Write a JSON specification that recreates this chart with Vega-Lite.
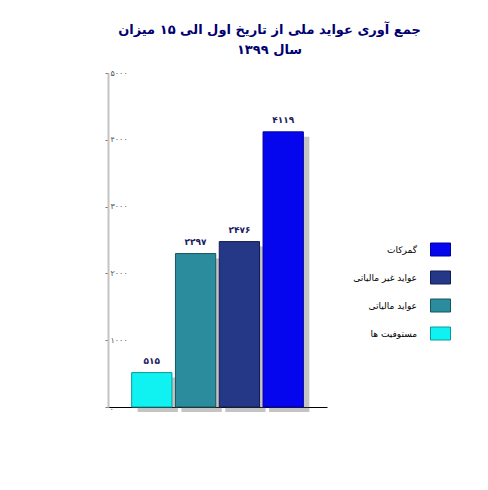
{
  "$schema": "https://vega.github.io/schema/vega-lite/v6.json",
  "autosize": "none",
  "padding": {"left": 108, "top": 73, "right": 161, "bottom": 83},
  "width": 219,
  "height": 334,
  "background": "white",
  "view": {"stroke": null},
  "title": {
    "text": ["جمع آوری عواید ملی از تاریخ اول الی ۱۵ میزان", "سال ۱۳۹۹"],
    "font": "DejaVu Sans",
    "fontSize": 13,
    "fontWeight": "bold",
    "color": "#000070",
    "lineHeight": 20,
    "anchor": "middle",
    "dx": 52,
    "offset": 12
  },
  "data": {
    "values": [
      {"item": "مستوفیت ها", "value": 515, "label": "۵۱۵"},
      {"item": "عواید مالیاتی", "value": 2297, "label": "۲۲۹۷"},
      {"item": "عواید غیر مالیاتی", "value": 2476, "label": "۲۴۷۶"},
      {"item": "گمرکات", "value": 4119, "label": "۴۱۱۹"}
    ]
  },
  "encoding": {
    "x": {
      "field": "item",
      "type": "nominal",
      "sort": null,
      "scale": {"paddingInner": 0.08, "paddingOuter": 0.54},
      "axis": {"labels": false, "ticks": false, "title": null, "domainColor": "black", "domainWidth": 1}
    },
    "y": {
      "field": "value",
      "type": "quantitative",
      "scale": {"domain": [0, 5000]},
      "axis": {
        "title": null,
        "grid": false,
        "values": [0, 1000, 2000, 3000, 4000, 5000],
        "domainColor": "#c4c4c4",
        "domainWidth": 2,
        "tickColor": "#777",
        "tickSize": 3,
        "labelFont": "DejaVu Sans",
        "labelFontSize": 8,
        "labelColor": "#555",
        "labelAlign": "left",
        "labelPadding": -5,
        "labelExpr": "datum.value == 0 ? '.' : datum.value == 1000 ? '۱۰۰۰' : datum.value == 2000 ? '۲۰۰۰' : datum.value == 3000 ? '۳۰۰۰' : datum.value == 4000 ? '۴۰۰۰' : '۵۰۰۰'"
      }
    }
  },
  "layer": [
    {
      "mark": {"type": "bar", "color": "#555555", "opacity": 0.35, "xOffset": 6, "yOffset": 5, "y2Offset": 5}
    },
    {
      "mark": {"type": "bar", "strokeWidth": 1},
      "encoding": {
        "color": {
          "field": "item",
          "type": "nominal",
          "scale": {
            "domain": ["گمرکات", "عواید غیر مالیاتی", "عواید مالیاتی", "مستوفیت ها"],
            "range": ["#0505EE", "#253888", "#2A8C9C", "#10F2F2"]
          },
          "legend": {
            "orient": "none",
            "legendX": 322,
            "legendY": 166,
            "title": null,
            "symbolType": "M-1,-0.65L1,-0.65L1,0.65L-1,0.65Z",
            "symbolSize": 400,
            "symbolStrokeColor": "#222244",
            "symbolStrokeWidth": 1,
            "symbolOpacity": 1,
            "labelAlign": "right",
            "labelOffset": -34,
            "labelFont": "DejaVu Sans",
            "labelFontSize": 9,
            "labelColor": "black",
            "rowPadding": 9
          }
        },
        "stroke": {
          "field": "item",
          "type": "nominal",
          "scale": {
            "domain": ["گمرکات", "عواید غیر مالیاتی", "عواید مالیاتی", "مستوفیت ها"],
            "range": ["#0000A0", "#101C50", "#175560", "#0A9A9A"]
          },
          "legend": null
        }
      }
    },
    {
      "mark": {"type": "text", "baseline": "bottom", "dy": -7, "font": "DejaVu Sans", "fontSize": 9, "fontWeight": "bold", "color": "#202060"},
      "encoding": {"text": {"field": "label"}}
    }
  ]
}
